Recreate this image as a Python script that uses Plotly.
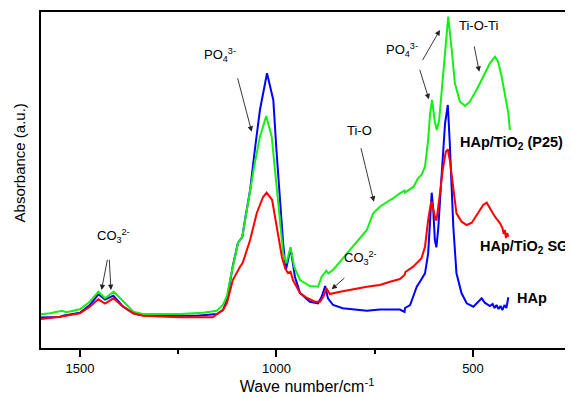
import plotly.graph_objects as go

# ---- data (wavenumber in cm-1, absorbance in arbitrary units) ----
hap_wn = [1599, 1551, 1543, 1500, 1475, 1453, 1436, 1415, 1390, 1364, 1347, 1289, 1202, 1151, 1136, 1126,
          1118, 1111, 1098, 1087, 1080, 1067, 1055, 1042, 1024, 1008, 1000, 991, 983, 976, 964, 953, 940,
          915, 894, 885, 876, 869, 856, 831, 770, 737, 686, 674, 673, 660, 643, 635, 622, 614, 609, 605,
          601, 597, 593, 588, 580, 571, 564, 559, 550, 542, 529, 516, 499, 487, 478, 470, 457, 450, 445,
          440, 435, 430, 425, 420, 415, 410]
hap_abs = [30.5, 31, 32.3, 35.3, 43, 53.7, 48.5, 52.3, 41.3, 34.7, 33, 32.3, 32.3, 34, 38, 48,
           66, 82, 105, 111, 128, 158, 198, 238, 274.7, 248, 198, 148, 105, 78, 99.7, 71.3, 55,
           46.3, 44.7, 51.3, 62, 49.7, 43, 39.7, 37.3, 38.5, 38.5, 36, 40, 43, 61.3, 66.3, 74.7, 94.7, 134.7, 155.3,
           138, 108, 100.7, 121.3, 171.3, 224.7, 243, 204.7, 121.3, 74.7, 54.7, 44.7, 41.3, 46.3, 49.7, 45.3, 42, 44, 40,
           43, 39, 42, 38, 43, 40, 50.7]

sg_wn = [1599, 1551, 1500, 1475, 1453, 1436, 1415, 1390, 1364, 1340, 1246, 1162, 1144, 1136, 1126, 1111,
         1093, 1086, 1067, 1050, 1034, 1025, 1011, 999, 986, 978, 971, 964, 958, 940, 922, 902, 889, 880,
         873, 864, 838, 770, 737, 711, 686, 674, 672, 652, 631, 622, 614, 607, 605, 597, 593, 586, 577,
         569, 564, 559, 550, 542, 529, 516, 503, 487, 474, 465, 457, 444, 431, 425, 422, 419, 416, 413, 410]
sg_abs = [29, 31.3, 34.7, 41.3, 48.7, 44.5, 49.7, 41.3, 34.7, 32.3, 30.7, 30.7, 36, 38, 45, 68,
          81, 85, 108, 135, 151, 155.3, 148, 121, 91, 80, 75, 76.3, 68, 55, 50, 46.3, 46.3, 52,
          59.7, 54, 56.3, 61.3, 63, 66.3, 69, 73, 76, 81.3, 89.7, 101.3, 128, 144.7, 146.3, 131.3, 127.3, 148, 178,
          196.3, 198.7, 188, 158, 134.7, 126.3, 123, 125.3, 134.7, 143, 145.3, 139.7, 131.3, 124.7, 120, 114, 118, 110, 115, 111.3]

p25_wn = [1599, 1576, 1546, 1534, 1500, 1475, 1453, 1436, 1414, 1390, 1364, 1340, 1246, 1187, 1152, 1136,
          1126, 1118, 1111, 1098, 1087, 1080, 1067, 1055, 1042, 1026, 1012, 1000, 987, 983, 975, 964, 955,
          940, 915, 894, 885, 879, 873, 868, 856, 831, 805, 770, 754, 737, 711, 703, 686, 674, 673, 651,
          640, 631, 622, 614, 609, 604, 597, 592, 586, 580, 574, 563, 554, 546, 533, 520, 508, 491, 474,
          457, 444, 436, 427, 419, 410, 406]
p25_abs = [33.7, 34.7, 37.3, 35.7, 38.7, 46.3, 56.3, 49.7, 56.3, 46.3, 36.3, 34, 34, 35.3, 37.3, 43,
           52, 68, 82, 105, 111, 128, 155, 185, 211.3, 232, 211.3, 165, 111.3, 95, 84.7, 100.7, 81.3,
           68, 62, 61.3, 71.3, 74.7, 77.3, 74.7, 78, 89.7, 101.3, 118, 134.7, 141.3, 148, 149.7, 154.7, 157.5, 155.5, 161.3,
           169.7, 173, 181.3, 208, 234.7, 248, 226.3, 218, 228, 254.7, 278, 331.3, 298, 264.7, 246.3, 242, 246.3, 258, 271.3,
           284.7, 291.3, 286.3, 271.3, 254.7, 234.7, 218]

x_ticks = [1500, 1000, 500]
x_minor_ticks = [1250, 750]

FONT = "Arial, 'Liberation Sans', sans-serif"

fig = go.Figure()
fig.add_trace(go.Scatter(x=hap_wn, y=hap_abs, mode="lines", line=dict(color="#0000FF", width=2), name="HAp"))
fig.add_trace(go.Scatter(x=p25_wn, y=p25_abs, mode="lines", line=dict(color="#14F014", width=2), name="HAp/TiO2 (P25)"))
fig.add_trace(go.Scatter(x=sg_wn, y=sg_abs, mode="lines", line=dict(color="#FF0000", width=2), name="HAp/TiO2 SG"))

anns = []
def arrow(hx, hy, tx, ty):
    anns.append(dict(x=hx, y=hy, ax=tx, ay=ty, xref="x", yref="y", axref="x", ayref="y",
                     text="", showarrow=True, arrowhead=2, arrowsize=1.2, arrowwidth=0.9,
                     arrowcolor="#222222"))

def label(x, y, text, size=13, xanchor="center", yanchor="middle"):
    anns.append(dict(x=x, y=y, xref="x", yref="y", text=text, showarrow=False,
                     xanchor=xanchor, yanchor=yanchor, font=dict(size=size, color="black", family=FONT)))

# arrows
arrow(1445, 58, 1429.5, 89.7)
arrow(1421, 58, 1425.4, 89.7)
arrow(1063, 216.3, 1099.7, 271.3)
arrow(752, 146.3, 785.8, 201.3)
arrow(859.6, 58.7, 823.2, 71.3)
arrow(584, 318, 630.5, 286.3)
arrow(612, 248.7, 636.6, 279.7)
arrow(484, 276.3, 497.5, 303)

# annotation texts
label(1413.5, 112, "CO<sub>3</sub><sup>2-</sup>")
label(1144, 293, "PO<sub>4</sub><sup>3-</sup>")
label(787.5, 218, "Ti-O")
label(785, 90, "CO<sub>3</sub><sup>2-</sup>")
label(681, 298, "PO<sub>4</sub><sup>3-</sup>")
label(484.7, 323, "Ti-O-Ti")

# curve labels
label(538, 205, "<b>HAp/TiO<sub>2</sub> (P25)</b>", size=14.5, xanchor="left")
label(487, 101, "<b>HAp/TiO<sub>2</sub> SG</b>", size=14.5, xanchor="left")
label(393, 50, "<b>HAp</b>", size=14.5, xanchor="left")

# y axis title
anns.append(dict(x=-0.041, y=0.55, xref="paper", yref="paper", text="Absorbance (a.u.)",
                 textangle=-90, showarrow=False, xanchor="center", yanchor="middle",
                 font=dict(size=15, color="black", family=FONT)))

# the page body has an 8px margin, so the figure is sized/offset to compensate
fig.update_layout(
    width=565, height=390,
    margin=dict(l=33, r=0, t=4, b=50, pad=0),
    paper_bgcolor="white", plot_bgcolor="white",
    showlegend=False,
    font=dict(family=FONT, color="black"),
    annotations=anns,
    xaxis=dict(range=[1599, 245.5], tickmode="array", tickvals=x_ticks,
               ticktext=[str(v) for v in x_ticks],
               ticks="outside", ticklen=7, tickwidth=2, tickcolor="black",
               minor=dict(tickvals=x_minor_ticks, ticks="outside", ticklen=4, tickwidth=2, tickcolor="black"),
               showline=True, linecolor="black", linewidth=2, mirror=True,
               showgrid=False, zeroline=False, automargin=False,
               tickfont=dict(size=13, family=FONT, color="black"),
               title=dict(text="Wave number/cm<sup>-1</sup>", font=dict(size=16, family=FONT, color="black"), standoff=5)),
    yaxis=dict(range=[0, 336], showticklabels=False, ticks="", showgrid=False, zeroline=False,
               showline=True, linecolor="black", linewidth=2, mirror=False, automargin=False),
)

fig.write_html("out.html")
